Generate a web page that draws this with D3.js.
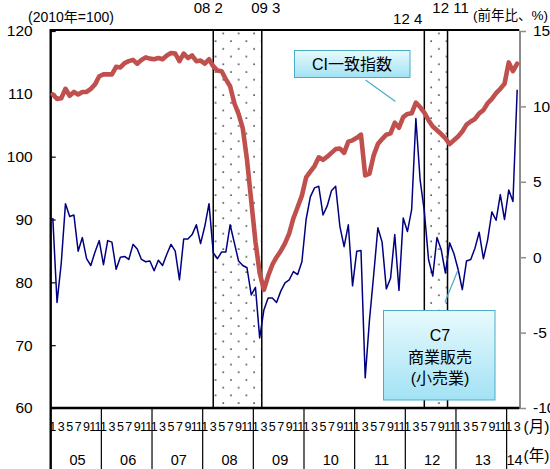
<!DOCTYPE html>
<html><head><meta charset="utf-8">
<script src="https://cdn.jsdelivr.net/npm/d3@7"></script>
<style>
html,body{margin:0;padding:0;background:#fff;overflow:hidden}
svg{display:block}
text{font-family:"Liberation Sans",Arial,"Noto Sans CJK JP",sans-serif;fill:#000}
</style></head><body>
<svg id="chart" width="550" height="469"></svg>
<script>
// ---- data ----
const years = ["05","06","07","08","09","10","11","12","13","14"];
const startYear = 2005;
const lastYearMonths = 3;
const oddMonthLabels = ["1","3","5","7","9","11"];

// CI coincident index (2010 = 100), monthly 2005-01 .. 2014-03
const ciIndex = [
  109.9,109.2,109.3,110.8,109.7,110.3,109.9,110.3,110.3,110.8,111.5,112.8,
  113.1,113.1,113.1,114.3,114.2,114.9,115.2,115.4,114.8,115.4,115.8,115.6,
  115.5,115.7,115.5,116.1,116.5,116.4,115.2,116.4,115.7,116.1,115.2,115.3,
  114.8,115.5,114.4,113.7,113.6,112.3,111.2,108.5,106.8,104.5,99.5,93.0,
  86.5,81.5,78.8,81.0,82.8,84.0,85.0,86.2,87.8,90.2,92.0,93.8,
  96.7,97.6,98.5,99.9,99.5,100.0,100.6,101.2,101.3,100.6,102.4,102.6,
  103.0,103.5,97.0,97.3,100.2,102.0,102.8,103.5,103.7,105.4,104.6,106.3,
  106.8,106.9,108.6,107.9,107.0,105.8,104.8,104.2,103.6,102.9,102.0,102.6,
  103.2,104.0,105.1,105.6,106.0,106.9,107.4,108.5,109.2,110.1,110.8,111.6,
  115.0,113.6,114.8
];

// C7 commercial sales (retail), % change from a year earlier
const retailYoY = [
  2.6,-3.0,-0.4,3.55,2.7,2.8,0.4,1.3,-0.1,-0.55,0.35,1.1,
  -0.5,1.1,1.0,-0.8,0.0,0.05,-0.15,0.85,0.55,-0.15,-0.3,-0.25,
  -0.9,-0.2,-0.55,0.2,0.85,0.4,-1.5,1.2,1.2,1.5,2.15,0.9,
  2.05,3.55,0.3,-0.1,0.35,0.35,2.15,0.95,-0.25,-0.55,-0.7,-2.5,
  -2.0,-5.35,-3.5,-2.7,-2.7,-3.0,-2.25,-1.7,-1.5,-0.95,-1.15,-0.3,
  2.5,4.0,4.6,4.7,2.8,3.4,4.4,4.7,2.05,0.7,2.15,-1.9,
  0.4,0.45,-8.0,-4.2,-1.2,1.95,1.0,-2.1,-1.4,1.5,-2.2,2.6,
  1.7,3.15,9.2,5.15,3.05,-0.15,-1.25,1.3,0.5,-1.05,0.95,0.25,
  -0.8,-2.15,-0.25,-0.15,0.6,1.65,-0.1,1.15,3.0,2.45,4.15,2.5,
  4.45,3.7,11.1
];

const leftTicks = [60,70,80,90,100,110,120];
const rightTicks = [-10,-5,0,5,10,15];

// business-cycle contraction phases (peak -> trough)
const recessions = [
  {peak:"2008-02", trough:"2009-03", peakLabel:"08 2", troughLabel:"09 3"},
  {peak:"2012-04", trough:"2012-11", peakLabel:"12 4", troughLabel:"12 11"}
];

const ciLabel = "CI一致指数";
const retailLabel = ["C7","商業販売","(小売業)"];

// ---- build month keys ----
const months = [];
years.forEach((yy, k) => {
  const n = k === years.length - 1 ? lastYearMonths : 12;
  for (let m = 1; m <= n; m++) months.push(`${startYear + k}-${String(m).padStart(2, "0")}`);
});

// ---- layout ----
const W = 550, H = 469;
const plot = {left: 50.7, right: 519.3, top: 31, bottom: 408};

const svg = d3.select("#chart");
const x = d3.scaleBand().domain(months).range([plot.left, plot.right]).padding(0);
const cx = m => x(m) + x.bandwidth() / 2;
const yL = d3.scaleLinear().domain([60, 120]).range([plot.bottom, plot.top]);
const yR = d3.scaleLinear().domain([-10, 15]).range([plot.bottom, plot.top]);

// ---- defs: dotted fill and callout gradient ----
const defs = svg.append("defs");
const pat = defs.append("pattern").attr("id", "dots")
  .attr("patternUnits", "userSpaceOnUse")
  .attr("width", 15.4).attr("height", 15.4)
  .attr("x", 223.3 - 3).attr("y", 64.3 - 3);
pat.append("circle").attr("cx", 3).attr("cy", 3).attr("r", 0.85).attr("fill", "#222");
pat.append("circle").attr("cx", 10.7).attr("cy", 10.7).attr("r", 0.85).attr("fill", "#222");

const grad = defs.append("linearGradient").attr("id", "callout")
  .attr("x1", 0).attr("y1", 0).attr("x2", 0).attr("y2", 1);
grad.append("stop").attr("offset", 0).attr("stop-color", "#e8fafd");
grad.append("stop").attr("offset", 1).attr("stop-color", "#a2e2f4");

// ---- contraction shading ----
const shade = svg.append("g");
recessions.forEach((r, k) => {
  const x0 = cx(months[months.indexOf(r.peak) + 1]);
  const x1 = x(r.trough);
  shade.append("rect").attr("x", x0).attr("y", plot.top).attr("width", x1 - x0)
    .attr("height", plot.bottom - plot.top).attr("fill", "url(#dots)");
  [x0, x1].forEach(xx => shade.append("line")
    .attr("x1", xx).attr("x2", xx).attr("y1", plot.top).attr("y2", plot.bottom)
    .attr("stroke", "#000").attr("stroke-width", 1.5));
  const top = svg.append("g").style("font-size", "15px");
  if (k === 0) {
    top.append("text").attr("x", x0 - 5).attr("y", 12.5).attr("text-anchor", "middle").text(r.peakLabel);
    top.append("text").attr("x", x1 + 4).attr("y", 12.5).attr("text-anchor", "middle").text(r.troughLabel);
  } else {
    top.append("text").attr("x", x0 - 2).attr("y", 23.5).attr("text-anchor", "end").text(r.peakLabel);
    top.append("text").attr("x", x1 + 3).attr("y", 12.5).attr("text-anchor", "middle").text(r.troughLabel);
  }
});

// ---- axes ----
const axL = svg.append("g").attr("transform", `translate(${plot.left},0)`)
  .call(d3.axisLeft(yL).tickValues(leftTicks).tickSize(-5).tickPadding(18).tickFormat(d => d));
axL.select(".domain").remove();
axL.selectAll(".tick line").attr("stroke", "#000").attr("stroke-width", 1.2);
axL.selectAll(".tick text").style("font-size", "15.5px").attr("fill", "#000");
axL.attr("font-family", null);

const axR = svg.append("g").attr("transform", `translate(${plot.right + 0.7},0)`)
  .call(d3.axisRight(yR).tickValues(rightTicks).tickSize(6).tickPadding(7).tickFormat(d => String(d)));
axR.select(".domain").remove();
axR.selectAll(".tick line").attr("stroke", "#8c8c8c").attr("stroke-width", 1.5);
axR.selectAll(".tick text").style("font-size", "15.5px").attr("fill", "#000");
axR.attr("font-family", null);

// frame
svg.append("line").attr("x1", plot.right + 0.7).attr("x2", plot.right + 0.7)
  .attr("y1", plot.top).attr("y2", plot.bottom + 1).attr("stroke", "#8c8c8c").attr("stroke-width", 2);
svg.append("line").attr("x1", plot.left).attr("x2", plot.right)
  .attr("y1", plot.top - 1).attr("y2", plot.top - 1).attr("stroke", "#000").attr("stroke-width", 1.8);
svg.append("line").attr("x1", plot.left).attr("x2", plot.right)
  .attr("y1", plot.bottom).attr("y2", plot.bottom).attr("stroke", "#000").attr("stroke-width", 2.4);
svg.append("line").attr("x1", plot.left).attr("x2", plot.left)
  .attr("y1", plot.top - 2).attr("y2", H).attr("stroke", "#000").attr("stroke-width", 2.4);

// ---- month / year axis table ----
const xa = svg.append("g");
years.forEach((yy, k) => {
  const ym = months.filter(m => m.startsWith(String(startYear + k)));
  const first = ym[0], last = ym[ym.length - 1];
  if (k > 0) xa.append("line").attr("x1", x(first)).attr("x2", x(first))
    .attr("y1", plot.bottom).attr("y2", H).attr("stroke", "#000").attr("stroke-width", 1.2);
  ym.forEach((m, j) => {
    const lbl = String(j + 1);
    if (oddMonthLabels.includes(lbl))
      xa.append("text").attr("x", cx(m)).attr("y", 431).attr("text-anchor", "middle")
        .style("font-size", "12.5px")
        .style("letter-spacing", lbl.length > 1 ? "-0.8px" : null)
        .text(lbl);
  });
  xa.append("text").attr("x", (x(first) + x(last) + x.bandwidth()) / 2 + 1.5).attr("y", 465)
    .attr("text-anchor", "middle").style("font-size", "14.5px").text(yy);
});
xa.append("text").attr("x", 523.5).attr("y", 432).style("font-size", "15.5px").text("(月)");
xa.append("text").attr("x", 523.5).attr("y", 461).style("font-size", "15.5px").text("(年)");

// unit captions
svg.append("text").attr("x", 28).attr("y", 22).style("font-size", "14px").text("(2010年=100)");
svg.append("text").attr("x", 473).attr("y", 19.5).style("font-size", "13.5px").text("(前年比、%)");

// ---- series ----
const ciLine = d3.line().x((d, i) => cx(months[i])).y(d => yL(d));
const rtLine = d3.line().x((d, i) => cx(months[i])).y(d => yR(d));

svg.append("path").datum(ciIndex).attr("d", ciLine)
  .attr("fill", "none").attr("stroke", "#c0504d").attr("stroke-width", 4.6)
  .attr("stroke-linejoin", "round").attr("stroke-linecap", "round");
svg.append("path").datum(retailYoY).attr("d", rtLine)
  .attr("fill", "none").attr("stroke", "#000080").attr("stroke-width", 1.5)
  .attr("stroke-linejoin", "round");

// ---- callouts ----
const call = svg.append("g");
call.append("line").attr("x1", 365.5).attr("y1", 80).attr("x2", 395.5).attr("y2", 101.5)
  .attr("stroke", "#4bacc6").attr("stroke-width", 1.2);
call.append("rect").attr("x", 294.5).attr("y", 50.5).attr("width", 115.5).attr("height", 27)
  .attr("fill", "url(#callout)").attr("stroke", "#4bacc6").attr("stroke-width", 1);
call.append("text").attr("x", 352).attr("y", 69.5).attr("text-anchor", "middle")
  .style("font-size", "16px").text(ciLabel);

call.append("line").attr("x1", 445).attr("y1", 302).attr("x2", 458).attr("y2", 270)
  .attr("stroke", "#4bacc6").attr("stroke-width", 1.2);
call.append("rect").attr("x", 383.5).attr("y", 310.5).attr("width", 111.5).attr("height", 89.5)
  .attr("fill", "url(#callout)").attr("stroke", "#4bacc6").attr("stroke-width", 1);
retailLabel.forEach((t, i) => call.append("text").attr("x", 440).attr("y", 341 + i * 21.5)
  .attr("text-anchor", "middle").style("font-size", "16px").text(t));
</script>
</body></html>
